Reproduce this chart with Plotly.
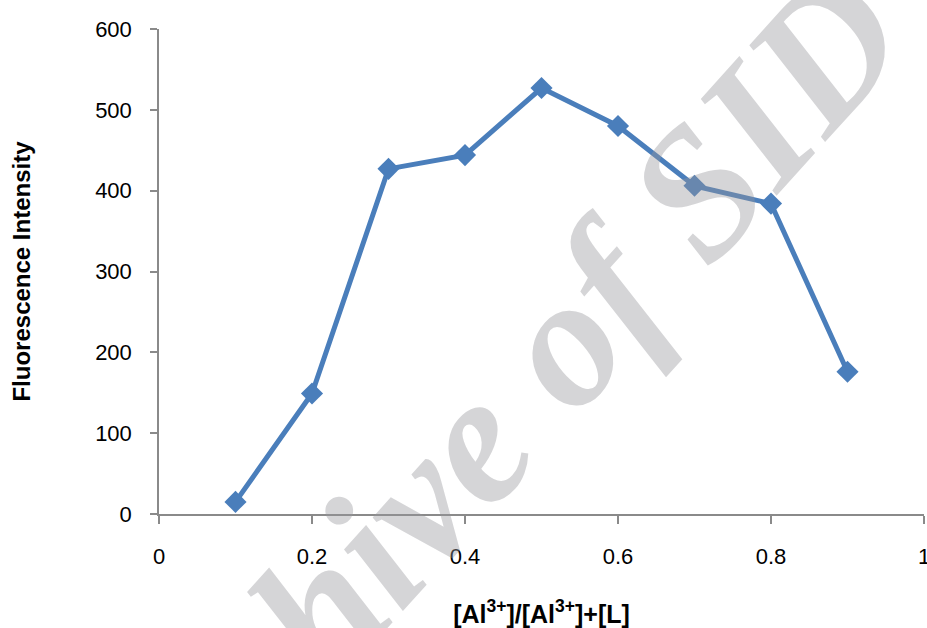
import plotly.graph_objects as go

# Data
ratio = [0.1, 0.2, 0.3, 0.4, 0.5, 0.6, 0.7, 0.8, 0.9]
intensity = [15, 149, 427, 444, 527, 480, 406, 384, 176]

x_ticks = [0, 0.2, 0.4, 0.6, 0.8, 1]
x_tick_text = ["0", "0.2", "0.4", "0.6", "0.8", "1"]
y_ticks = [0, 100, 200, 300, 400, 500, 600]

x_title = "[Al<sup>3+</sup>]/[Al<sup>3+</sup>]+[L]"
y_title = "Fluorescence Intensity"
watermark = "Archive of SID"

LINE_COLOR = "#4a7ebb"
AXIS_COLOR = "#8a8a8a"
TICK_FONT = dict(family="Liberation Sans", size=22, color="#000000")

fig = go.Figure()
fig.add_trace(go.Scatter(
    x=ratio, y=intensity, mode="lines+markers",
    line=dict(color=LINE_COLOR, width=5),
    marker=dict(symbol="diamond", size=17, color=LINE_COLOR),
    showlegend=False, cliponaxis=False,
))

fig.update_layout(
    width=927, height=628,
    margin=dict(l=159, r=3, t=29, b=114),
    paper_bgcolor="white", plot_bgcolor="white",
    xaxis=dict(
        range=[0, 1], tickvals=x_ticks, ticktext=x_tick_text,
        showgrid=False, zeroline=False, automargin=False,
        showline=True, linecolor=AXIS_COLOR, linewidth=1.5,
        ticks="outside", ticklen=8, tickwidth=1.5, tickcolor=AXIS_COLOR,
        tickfont=TICK_FONT, ticklabelstandoff=14, ticklabeloverflow="allow",
        title=dict(text=x_title, standoff=40,
                   font=dict(family="Liberation Sans", size=25, color="#000000", weight="bold")),
    ),
    yaxis=dict(
        range=[0, 600], tickvals=y_ticks,
        showgrid=False, zeroline=False, automargin=False,
        showline=True, linecolor=AXIS_COLOR, linewidth=1.5,
        ticks="outside", ticklen=7, tickwidth=1.5, tickcolor=AXIS_COLOR,
        tickfont=TICK_FONT, ticklabelstandoff=14, ticklabeloverflow="allow",
        title=dict(text=y_title, standoff=58,
                   font=dict(family="Liberation Sans", size=24, color="#000000", weight="bold")),
    ),
)

fig.add_annotation(
    text=watermark, xref="paper", yref="paper", x=0.42, y=0.17,
    xanchor="center", yanchor="middle", showarrow=False, textangle=-48,
    font=dict(family="Liberation Serif", size=185, color="rgba(150,150,155,0.40)",
              weight="bold", style="italic"),
)

# remove the default page margin so the 927x628 figure fills the window exactly
fig.write_html("out.html", config={"displayModeBar": False},
               post_script="document.body.style.margin='0';document.body.style.overflow='hidden';")
